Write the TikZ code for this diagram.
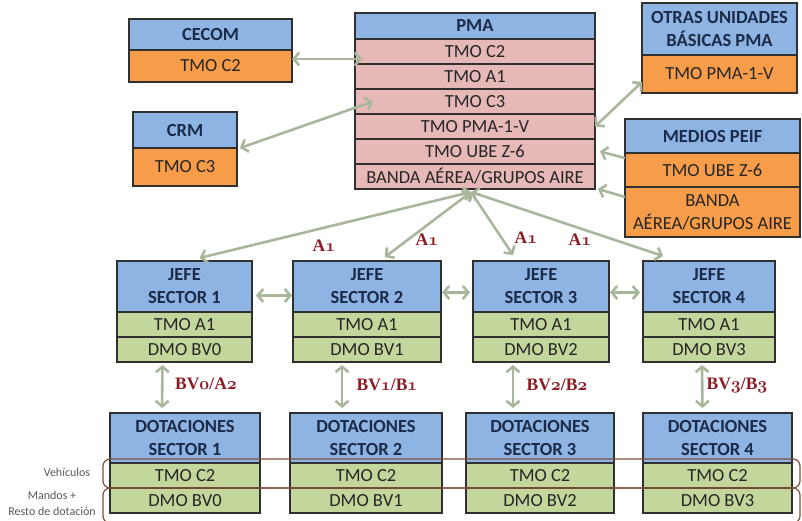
\documentclass[tikz,border=0pt]{standalone}
\usepackage{fontspec}
\newfontfamily\boxfont{Carlito}
\newfontfamily\lblfont{Liberation Serif}
\usetikzlibrary{arrows.meta}
\definecolor{hdrblue}{HTML}{8EB4E3}
\definecolor{orng}{HTML}{F79C48}
\definecolor{pmapink}{HTML}{E6B9B8}
\definecolor{grnrow}{HTML}{C3D69B}
\definecolor{navy}{HTML}{1C2B48}
\definecolor{edge}{HTML}{303030}
\definecolor{linkc}{HTML}{A8B79C}
\definecolor{lblred}{HTML}{8C1C24}
\definecolor{brk}{HTML}{7D5038}
\newcommand\osf[1]{{\usefont{OML}{cmm}{b}{it}#1}}
\tikzset{
  cell/.style={draw=edge, line width=1.3pt, inner sep=0pt, outer sep=0pt,
    anchor=north west, align=center, text=black!85,
    font=\boxfont\fontsize{18.5}{23}\selectfont},
  hd/.style={cell, fill=hdrblue, text=navy,
    font=\boxfont\bfseries\fontsize{18.5}{23}\selectfont},
  og/.style={cell, fill=orng},
  pk/.style={cell, fill=pmapink},
  gr/.style={cell, fill=grnrow},
  link/.style={draw=linkc, line width=2.6pt, {Straight Barb[length=5.5pt,width=13pt]}-{Straight Barb[length=5.5pt,width=13pt]}},
  onelink/.style={draw=linkc, line width=2.6pt, -{Straight Barb[length=5.5pt,width=13pt]}},
  redlbl/.style={text=lblred, font=\lblfont\bfseries\fontsize{17.5}{20}\selectfont},
  note/.style={text=black!65, align=center, font=\boxfont\fontsize{12}{16}\selectfont},
  brace/.style={draw=brk, line width=1.2pt, rounded corners=7pt}
}
\begin{document}
\begin{tikzpicture}[x=1pt,y=-1pt]
\useasboundingbox (0,0) rectangle (802,521);

\node[hd, minimum width=163, minimum height=31] (cecom) at (129,19) {CECOM};
\node[og, minimum width=163, minimum height=32] (cecomc2) at (cecom.south west) {TMO C2};

\node[hd, minimum width=104, minimum height=36] (crm) at (133,112) {CRM};
\node[og, minimum width=104, minimum height=38] (crmc3) at (crm.south west) {TMO C3};

\node[hd, minimum width=240, minimum height=26] (pma) at (355,13) {PMA};
\node[pk, minimum width=240, minimum height=25] (pmac2) at (pma.south west) {TMO C2};
\node[pk, minimum width=240, minimum height=25] (pmaa1) at (pmac2.south west) {TMO A1};
\node[pk, minimum width=240, minimum height=25] (pmac3) at (pmaa1.south west) {TMO C3};
\node[pk, minimum width=240, minimum height=25] (pmapma) at (pmac3.south west) {TMO PMA-1-V};
\node[pk, minimum width=240, minimum height=25] (pmaube) at (pmapma.south west) {TMO UBE Z-6};
\node[pk, minimum width=240, minimum height=25] (pmaband) at (pmaube.south west) {BANDA AÉREA/GRUPOS AIRE};

\node[hd, minimum width=155, minimum height=52] (otras) at (642,3) {OTRAS UNIDADES\\BÁSICAS PMA};
\node[og, minimum width=155, minimum height=38] (otrasc) at (otras.south west) {TMO PMA-1-V};

\node[hd, minimum width=175, minimum height=34] (medios) at (625,119) {MEDIOS PEIF};
\node[og, minimum width=175, minimum height=34] (mediosz) at (medios.south west) {TMO UBE Z-6};
\node[og, minimum width=175, minimum height=50] (mediosb) at (mediosz.south west) {BANDA\\AÉREA/GRUPOS AIRE};

\node[hd, minimum width=135, minimum height=51] (jefe1) at (117,261) {JEFE\\SECTOR 1};
\node[gr, minimum width=135, minimum height=25] (jefea1) at (jefe1.south west) {TMO A1};
\node[gr, minimum width=135, minimum height=25] (jefeb1) at (jefea1.south west) {DMO BV0};
\node[hd, minimum width=148, minimum height=51] (jefe2) at (293,261) {JEFE\\SECTOR 2};
\node[gr, minimum width=148, minimum height=25] (jefea2) at (jefe2.south west) {TMO A1};
\node[gr, minimum width=148, minimum height=25] (jefeb2) at (jefea2.south west) {DMO BV1};
\node[hd, minimum width=136, minimum height=51] (jefe3) at (473,261) {JEFE\\SECTOR 3};
\node[gr, minimum width=136, minimum height=25] (jefea3) at (jefe3.south west) {TMO A1};
\node[gr, minimum width=136, minimum height=25] (jefeb3) at (jefea3.south west) {DMO BV2};
\node[hd, minimum width=132, minimum height=51] (jefe4) at (643,261) {JEFE\\SECTOR 4};
\node[gr, minimum width=132, minimum height=25] (jefea4) at (jefe4.south west) {TMO A1};
\node[gr, minimum width=132, minimum height=25] (jefeb4) at (jefea4.south west) {DMO BV3};

\node[hd, minimum width=150, minimum height=50] (dot1) at (110,413) {DOTACIONES\\SECTOR 1};
\node[gr, minimum width=150, minimum height=25] (dotc1) at (dot1.south west) {TMO C2};
\node[gr, minimum width=150, minimum height=25] (dotb1) at (dotc1.south west) {DMO BV0};
\node[hd, minimum width=152, minimum height=50] (dot2) at (290,413) {DOTACIONES\\SECTOR 2};
\node[gr, minimum width=152, minimum height=25] (dotc2) at (dot2.south west) {TMO C2};
\node[gr, minimum width=152, minimum height=25] (dotb2) at (dotc2.south west) {DMO BV1};
\node[hd, minimum width=148, minimum height=50] (dot3) at (466,413) {DOTACIONES\\SECTOR 3};
\node[gr, minimum width=148, minimum height=25] (dotc3) at (dot3.south west) {TMO C2};
\node[gr, minimum width=148, minimum height=25] (dotb3) at (dotc3.south west) {DMO BV2};
\node[hd, minimum width=149, minimum height=50] (dot4) at (643,413) {DOTACIONES\\SECTOR 4};
\node[gr, minimum width=149, minimum height=25] (dotc4) at (dot4.south west) {TMO C2};
\node[gr, minimum width=149, minimum height=25] (dotb4) at (dotc4.south west) {DMO BV3};

\draw[brace] (103,459) rectangle (800,488);
\draw[brace] (103,488) rectangle (800,523);
\node[note] (veh) at (67,472) {Vehículos};
\node[note] (mandos) at (52,503) {Mandos +\\Resto de dotación};

\coordinate (focus) at ([xshift=-4pt,yshift=-3pt]pmaband.south);
\draw[link] ([yshift=7pt]cecomc2.east) -- ([xshift=7pt,yshift=-7.5pt]pmac2.west);
\draw[link] ([xshift=3pt]crm.south east) -- ([xshift=18pt]pmac3.west);
\draw[link] ([yshift=-8pt]otrasc.west) -- (pmapma.east);
\draw[onelink] ([yshift=12pt]mediosz.west) -- ([xshift=5pt]pmaube.east);
\draw[onelink] ([yshift=15pt]mediosb.west) -- ([xshift=3pt]pmaband.south east);
\draw[link] (focus) -- ([xshift=15pt,yshift=3pt]jefe1.north);
\draw[link] (focus) -- ([xshift=18pt,yshift=4pt]jefe2.north);
\draw[link] (focus) -- ([xshift=-28pt,yshift=6pt]jefe3.north);
\draw[link] (focus) -- ([xshift=-46pt,yshift=5pt]jefe4.north);
\draw[link, shorten <=4pt, shorten >=1pt] ([yshift=-9pt]jefe1.east) -- ([yshift=-9pt]jefe2.west);
\draw[link, shorten <=1pt, shorten >=3pt] ([yshift=-6pt]jefe2.east) -- ([yshift=-6pt]jefe3.west);
\draw[link, shorten <=1pt, shorten >=3pt] ([yshift=-6pt]jefe3.east) -- ([yshift=-6pt]jefe4.west);
\draw[link, shorten <=3pt, shorten >=5pt] ([xshift=-22pt]jefeb1.south) -- ([xshift=-23pt]dot1.north);
\draw[link, shorten <=3pt, shorten >=5pt] ([xshift=-25pt]jefeb2.south) -- ([xshift=-24pt]dot2.north);
\draw[link, shorten <=3pt, shorten >=5pt] ([xshift=-28pt]jefeb3.south) -- ([xshift=-27pt]dot3.north);
\draw[link, shorten <=3pt, shorten >=5pt] ([xshift=-7pt]jefeb4.south) -- ([xshift=-15pt]dot4.north);

\node[redlbl] (a1j1) at (324,246) {A\osf{1}};
\node[redlbl] (a1j2) at (427,240) {A\osf{1}};
\node[redlbl] (a1j3) at (526,238) {A\osf{1}};
\node[redlbl] (a1j4) at (580,240) {A\osf{1}};
\node[redlbl] (bvs1) at (206,384) {BV\osf{0}/A\osf{2}};
\node[redlbl] (bvs2) at (387,385) {BV\osf{1}/B\osf{1}};
\node[redlbl] (bvs3) at (557,385) {BV\osf{2}/B\osf{2}};
\node[redlbl] (bvs4) at (737,385) {BV\osf{3}/B\osf{3}};
\end{tikzpicture}
\end{document}
